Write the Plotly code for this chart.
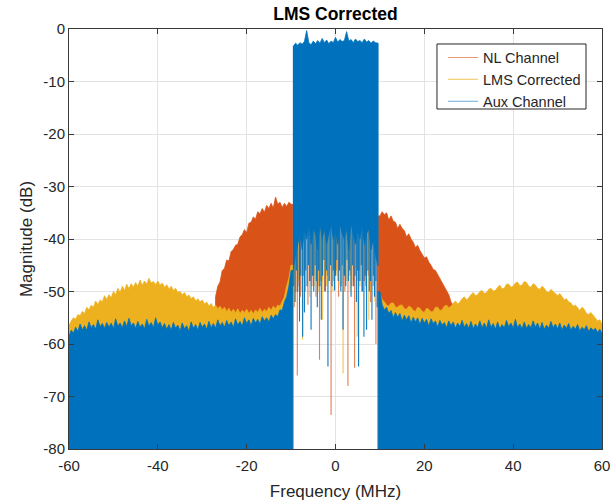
import plotly.graph_objects as go

# ---------------- data ----------------
BAND_EDGE = 9.6          # MHz, edge of the in-band signal
FLOOR = -80              # dB, bottom of the axis
SPIKE_TOP = -30          # dB, in-band comb lines start here (hidden under the main lobe)

freq_left = [-60 + 0.5 * i for i in range(101)]    # -60 .. -10 MHz, 0.5 MHz bins
freq_right = [10 + 0.5 * i for i in range(101)]    # 10 .. 60 MHz

aux_left = [-58.5, -57.4, -57.9, -56.8, -57.6, -56.2, -57.3, -56.5, -57.4, -55.8,
            -56.9, -56.3, -57.2, -55.4, -56.7, -56.1, -57.0, -55.9, -56.8, -56.0,
            -57.1, -55.2, -56.6, -56.0, -56.9, -55.6, -56.7, -55.1, -56.5, -56.0,
            -57.0, -55.7, -56.8, -56.2, -57.1, -55.3, -56.6, -55.9, -56.9, -55.0,
            -56.4, -55.8, -56.9, -56.1, -57.2, -56.3, -57.4, -55.9, -57.0, -56.4,
            -57.5, -56.0, -57.1, -56.5, -57.6, -55.8, -57.0, -56.3, -57.3, -55.9,
            -56.8, -56.2, -57.2, -55.7, -56.9, -56.1, -57.0, -55.4, -56.6, -55.9,
            -56.8, -55.5, -56.5, -55.8, -56.9, -55.2, -56.4, -55.7, -56.6, -55.0,
            -56.1, -55.4, -56.5, -55.1, -56.0, -55.3, -56.2, -54.8, -55.6, -55.0,
            -55.8, -54.5, -55.2, -54.4, -54.8, -53.5, -53.6, -52.0, -51.0, -49.0,
            -46.0]
aux_right = [-50.0, -52.5, -53.5, -53.0, -54.2, -53.6, -55.0, -54.0, -54.9, -54.2,
             -55.6, -54.5, -55.4, -54.6, -56.0, -54.9, -55.8, -55.0, -56.3, -55.1,
             -56.0, -55.3, -56.6, -55.2, -56.1, -55.6, -56.8, -55.5, -56.4, -55.9,
             -56.9, -55.6, -56.5, -55.8, -57.0, -56.0, -56.7, -55.5, -56.8, -56.1,
             -57.0, -55.7, -57.1, -56.2, -56.9, -55.6, -56.9, -56.0, -57.0, -55.4,
             -56.8, -56.1, -57.2, -55.8, -57.1, -56.3, -56.9, -55.5, -56.7, -56.0,
             -57.0, -55.3, -56.9, -56.2, -57.1, -55.8, -57.0, -56.3, -56.9, -55.6,
             -56.8, -56.0, -57.2, -55.9, -57.2, -56.4, -57.0, -55.7, -56.9, -56.2,
             -57.1, -56.0, -57.3, -56.4, -57.0, -56.1, -57.4, -56.6, -57.2, -56.3,
             -57.5, -56.8, -57.3, -56.5, -57.6, -56.9, -57.4, -57.0, -57.8, -57.2,
             -57.9]

lms_left = [-56.5, -55.6, -55.0, -55.3, -54.4, -54.6, -53.8, -54.2, -53.0, -53.5,
            -52.6, -53.0, -51.8, -52.5, -51.6, -52.0, -50.8, -51.5, -50.6, -51.2,
            -50.0, -50.6, -49.4, -50.2, -49.0, -49.8, -48.6, -49.5, -48.5, -49.2,
            -48.3, -49.0, -47.8, -48.8, -48.0, -48.6, -47.5, -48.4, -48.1, -48.7,
            -48.0, -48.8, -48.4, -49.2, -48.7, -49.5, -49.0, -49.8, -49.4, -50.2,
            -50.0, -50.6, -50.2, -51.0, -50.7, -51.4, -51.0, -51.8, -51.4, -52.0,
            -51.6, -52.4, -52.0, -52.8, -52.3, -53.0, -52.6, -53.3, -52.8, -53.5,
            -53.0, -53.8, -53.2, -54.0, -53.4, -54.1, -53.3, -54.2, -53.6, -54.0,
            -53.4, -54.2, -53.6, -54.3, -53.5, -54.0, -53.2, -54.0, -53.4, -53.8,
            -53.0, -53.6, -52.8, -53.3, -52.6, -52.8, -51.8, -51.0, -49.0, -47.5,
            -45.0]
lms_right = [-50.5, -51.5, -52.0, -52.6, -52.8, -52.2, -52.2, -53.0, -53.0, -52.6,
             -52.6, -53.3, -53.4, -52.8, -53.0, -53.6, -53.8, -53.0, -53.2, -53.8,
             -54.0, -53.2, -53.4, -53.9, -53.8, -53.0, -53.0, -53.6, -53.5, -52.8,
             -52.6, -53.1, -52.8, -52.2, -51.8, -52.4, -52.0, -51.4, -51.0, -51.6,
             -51.2, -50.6, -50.2, -50.8, -50.6, -50.0, -49.8, -50.4, -50.2, -49.6,
             -49.4, -49.9, -49.8, -49.2, -48.8, -49.5, -49.4, -48.6, -48.6, -49.2,
             -49.0, -48.4, -48.2, -48.9, -48.8, -48.1, -48.3, -49.0, -49.2, -48.5,
             -48.8, -49.4, -49.6, -49.0, -49.4, -50.0, -50.2, -49.6, -50.0, -50.5,
             -50.8, -50.4, -51.0, -51.6, -51.4, -52.0, -52.2, -52.8, -52.6, -53.2,
             -53.6, -53.0, -53.4, -54.2, -54.4, -54.0, -54.6, -55.2, -55.6, -55.4,
             -56.2]

nl_freq_left = [-27 + 0.5 * i for i in range(35)]   # -27 .. -10 MHz
nl_left = [-51.0, -49.0, -48.2, -46.0, -45.6, -44.0, -44.2, -42.4, -42.0, -41.2,
           -41.0, -39.6, -39.2, -38.2, -38.8, -37.0, -36.8, -35.8, -36.2, -34.8,
           -35.2, -34.2, -34.9, -33.6, -34.2, -33.2, -34.1, -32.0, -33.4, -33.0,
           -34.0, -33.2, -33.8, -33.0, -33.4]
nl_freq_right = [10 + 0.5 * i for i in range(35)]   # 10 .. 27 MHz
nl_right = [-35.6, -34.8, -35.4, -35.0, -36.4, -35.6, -36.6, -36.8, -38.0, -37.2,
            -38.0, -38.4, -39.6, -39.0, -40.0, -40.6, -41.6, -41.2, -42.2, -42.8,
            -43.6, -43.4, -44.4, -45.0, -45.8, -46.0, -46.8, -47.6, -48.4, -49.0,
            -49.8, -50.6, -52.0, -52.6, -53.5]

# in-band main lobe of the Aux channel (top and dense lower edge)
inband_freq = [-9.5, -9.0, -8.5, -8.0, -7.5, -7.0, -6.5, -6.0, -5.5, -5.0,
               -4.5, -4.0, -3.5, -3.0, -2.5, -2.0, -1.5, -1.0, -0.5, 0.0,
               0.5, 1.0, 1.5, 2.0, 2.5, 3.0, 3.5, 4.0, 4.5, 5.0,
               5.5, 6.0, 6.5, 7.0, 7.5, 8.0, 8.5, 9.0, 9.5]
inband_top = [-3.3, -2.7, -3.1, -2.6, -2.9, -2.4, -0.3, -2.6, -3.0, -2.3,
              -2.8, -2.2, -2.7, -1.8, -2.6, -2.1, -2.8, -2.3, -2.6, -1.6,
              -2.5, -2.0, -2.4, -2.2, -0.5, -2.3, -2.0, -2.6, -1.9, -2.4,
              -2.2, -2.6, -1.9, -2.5, -2.2, -2.7, -2.3, -2.6, -2.7]
inband_bottom = [-46, -43, -41, -39, -42, -38, -40, -37, -41, -38,
                 -39, -42, -37, -40, -38, -41, -39, -37, -40, -38,
                 -41, -37, -39, -40, -38, -42, -37, -39, -41, -38,
                 -40, -37, -41, -39, -38, -42, -40, -43, -45]

# in-band comb lines (frequency, lowest dB) per series
aux_spike_f = [-9.4, -9.1, -8.8, -8.5, -8.1, -7.8, -7.4, -7.0, -6.7, -6.4,
               -6.1, -5.8, -5.5, -5.2, -4.9, -4.6, -4.3, -4.1, -3.8, -3.5,
               -3.2, -2.9, -2.6, -2.3, -2.0, -1.7, -1.4, -1.1, -0.8, -0.5,
               -0.2, 0.0, 0.3, 0.6, 0.9, 1.2, 1.5, 1.7, 2.0, 2.3,
               2.6, 2.9, 3.2, 3.5, 3.8, 4.1, 4.4, 4.7, 5.0, 5.2,
               5.5, 5.8, 6.1, 6.4, 6.7, 7.0, 7.3, 7.6, 7.9, 8.2,
               8.5, 8.8, 9.1, 9.4]
aux_spike_db = [-49, -52, -46, -50, -55.7, -47, -58.6, -54, -46, -49,
                -45, -48, -57.3, -47, -50, -45, -48, -53, -46, -49,
                -55.4, -47, -44, -50, -46, -64.3, -48, -45, -49, -46,
                -49.8, -47, -44, -48, -46, -50, -45, -57.3, -47, -49,
                -44, -48, -46, -51, -45, -49, -47, -52, -46, -64.3,
                -48, -45, -50, -58.6, -47, -57.3, -46, -50, -48, -55.4,
                -47, -51, -48, -53]
nl_spike_f = [-9.3, -8.9, -8.6, -8.2, -7.9, -7.2, -6.8, -6.2, -5.7, -5.3,
              -4.8, -4.4, -3.9, -3.6, -3.0, -2.5, -1.9, -1.0, -0.4, 0.2,
              0.7, 1.3, 1.9, 2.1, 2.8, 3.3, 3.7, 4.3, 5.0, 5.4,
              5.9, 6.5, 6.8, 7.4, 7.9, 8.5, 9.1]
nl_spike_db = [-53, -50, -66, -49, -51, -47, -50, -52.5, -48, -49,
               -47, -51, -49, -63, -48, -50, -47, -73.5, -48, -46,
               -51, -49, -47, -50, -68, -47, -49, -64.5, -48, -46,
               -50, -48, -49, -47, -52, -49, -60]
lms_spike_f = [-9.2, -9.0, -8.3, -7.6, -7.4, -6.8, -6.3, -5.8, -5.0, -4.8,
               -3.9, -3.4, -2.9, -2.4, -2.0, -1.5, -0.6, 0.3, 0.8, 1.7,
               2.4, 3.0, 3.3, 4.0, 4.9, 5.5, 6.2, 6.9, 7.5, 8.0,
               8.6, 8.9]
lms_spike_db = [-52, -50, -48, -50, -59.2, -48, -50, -51, -47, -49,
                -50, -48, -55.4, -47, -49, -48, -50, -47, -49, -65.6,
                -48, -46, -50, -48, -58.6, -49, -48, -50, -55.4, -50,
                -48, -52]

series_names = ["NL Channel", "LMS Corrected", "Aux Channel"]
series_colors = ["#D95319", "#EDB120", "#0072BD"]

x_ticks = [-60, -40, -20, 0, 20, 40, 60]
x_ticktext = ["-60", "-40", "-20", "0", "20", "40", "60"]
y_ticks = [-80, -70, -60, -50, -40, -30, -20, -10, 0]
y_ticktext = ["-80", "-70", "-60", "-50", "-40", "-30", "-20", "-10", "0"]

FONT = "Liberation Sans, Arial, Helvetica, sans-serif"
TXT = "#262626"


# ---------------- helpers ----------------
def skirts(fl, yl, fr, yr, left_start, right_end):
    """closed outlines of the left and right out-of-band skirts, filled to the axis floor"""
    xs = [left_start] + fl + [-BAND_EDGE, -BAND_EDGE, left_start, None]
    ys = [FLOOR] + yl + [yl[-1], FLOOR, FLOOR, None]
    xs += [BAND_EDGE, BAND_EDGE] + fr + [right_end, BAND_EDGE]
    ys += [FLOOR, yr[0]] + yr + [FLOOR, FLOOR]
    return xs, ys


def comb(fs, ds):
    xs, ys = [], []
    for f, d in zip(fs, ds):
        xs += [f, f, None]
        ys += [SPIKE_TOP, d, None]
    return xs, ys


fig = go.Figure()

# NL Channel (drawn first, underneath)
x_nl, y_nl = skirts(nl_freq_left, nl_left, nl_freq_right, nl_right,
                    nl_freq_left[0] - 0.3, nl_freq_right[-1] + 0.3)
fig.add_trace(go.Scatter(x=x_nl, y=y_nl, mode="lines", fill="toself",
                         fillcolor=series_colors[0],
                         line=dict(color=series_colors[0], width=0.8),
                         showlegend=False, hoverinfo="skip"))
cx, cy = comb(nl_spike_f, nl_spike_db)
fig.add_trace(go.Scatter(x=cx, y=cy, mode="lines", showlegend=False,
                         line=dict(color=series_colors[0], width=1.1), opacity=0.75))

# LMS Corrected
x_l, y_l = skirts(freq_left, lms_left, freq_right, lms_right,
                  freq_left[0], freq_right[-1])
fig.add_trace(go.Scatter(x=x_l, y=y_l, mode="lines", fill="toself",
                         fillcolor=series_colors[1],
                         line=dict(color=series_colors[1], width=0.8),
                         showlegend=False, hoverinfo="skip"))
cx, cy = comb(lms_spike_f, lms_spike_db)
fig.add_trace(go.Scatter(x=cx, y=cy, mode="lines", showlegend=False,
                         line=dict(color=series_colors[1], width=1.1), opacity=0.75))

# Aux Channel (on top)
x_a, y_a = skirts(freq_left, aux_left, freq_right, aux_right,
                  freq_left[0], freq_right[-1])
fig.add_trace(go.Scatter(x=x_a, y=y_a, mode="lines", fill="toself",
                         fillcolor=series_colors[2],
                         line=dict(color=series_colors[2], width=0.8),
                         showlegend=False, hoverinfo="skip"))
x_in = [-BAND_EDGE] + inband_freq + [BAND_EDGE, BAND_EDGE] + inband_freq[::-1] + [-BAND_EDGE]
y_in = [inband_top[0]] + inband_top + [inband_top[-1], inband_bottom[-1]] + inband_bottom[::-1] + [inband_bottom[0]]
fig.add_trace(go.Scatter(x=x_in, y=y_in, mode="lines", fill="toself",
                         fillcolor=series_colors[2],
                         line=dict(color=series_colors[2], width=0.8),
                         showlegend=False, hoverinfo="skip"))
cx, cy = comb(aux_spike_f, aux_spike_db)
fig.add_trace(go.Scatter(x=cx, y=cy, mode="lines", showlegend=False,
                         line=dict(color=series_colors[2], width=1.1), opacity=0.95))

# legend entries (thin light lines, as in the reference legend)
for name, color in zip(series_names, series_colors):
    fig.add_trace(go.Scatter(x=[None], y=[None], mode="lines", name=name,
                             line=dict(color=color, width=1.2), opacity=0.6))

axis_common = dict(
    showgrid=True, gridcolor="#e3e3e3", gridwidth=1,
    showline=True, linecolor="#3a3a3a", linewidth=1, mirror="ticks",
    ticks="inside", ticklen=5, tickcolor="#3a3a3a",
    zeroline=False, automargin=False,
    tickfont=dict(family=FONT, size=15, color=TXT),
)

fig.update_layout(
    width=615, height=501,
    margin=dict(l=69, r=13, t=29, b=52),
    paper_bgcolor="white", plot_bgcolor="white",
    title=dict(text="<b>LMS Corrected</b>", x=0.5455, xanchor="center",
               y=0.972, yanchor="middle",
               font=dict(family=FONT, size=17.5, color="black")),
    xaxis=dict(range=[-60, 60], tickvals=x_ticks, ticktext=x_ticktext,
               ticklabelstandoff=3,
               title=dict(text="Frequency (MHz)", standoff=13,
                          font=dict(family=FONT, size=17, color=TXT)),
               **axis_common),
    yaxis=dict(range=[-80, 0], tickvals=y_ticks, ticktext=y_ticktext,
               title=dict(text="Magnitude (dB)", standoff=6,
                          font=dict(family=FONT, size=17, color=TXT)),
               **axis_common),
    legend=dict(x=0.970, xanchor="right", y=0.970, yanchor="top",
                bgcolor="rgba(0,0,0,0)", borderwidth=0,
                font=dict(family=FONT, size=14.5, color=TXT),
                tracegroupgap=0, itemwidth=30),
    showlegend=True,
    # legend frame, drawn to the reference's proportions
    shapes=[dict(type="rect", xref="paper", yref="paper",
                 x0=0.6904, x1=0.970, y0=0.8095, y1=0.9643,
                 line=dict(color="#262626", width=1), fillcolor="white",
                 layer="above")],
)

# remove the browser's default 8 px page margin so the figure sits at the window origin
fig.write_html("out.html",
               config={"displayModeBar": False},
               post_script="document.body.style.margin='0';document.body.style.padding='0';")
